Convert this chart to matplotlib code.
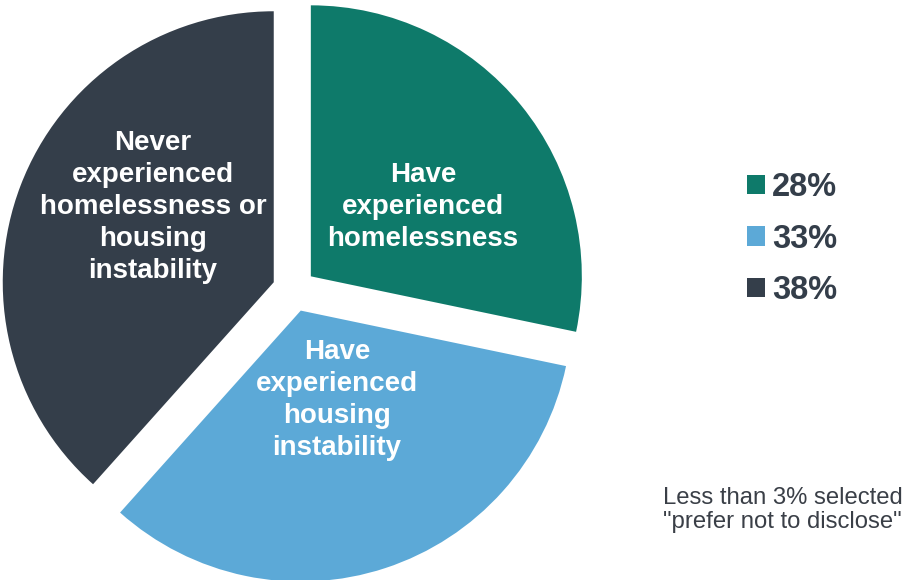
import matplotlib.pyplot as plt

plt.rcParams['font.family'] = ['Liberation Sans', 'DejaVu Sans']

# survey shares (the rest selected "prefer not to disclose")
labels = ["Have\nexperienced\nhomelessness",
          "Have\nexperienced\nhousing\ninstability",
          "Never\nexperienced\nhomelessness or\nhousing\ninstability"]
values = [28, 33, 38]
legend_labels = ["28%", "33%", "38%"]
colors = ["#0E7A6A", "#5CA9D7", "#343E4A"]
note = "Less than 3% selected\n\"prefer not to disclose\""

W, H = 902, 580
fig = plt.figure(figsize=(W / 100, H / 100), dpi=100)

# pie axes: centre at (294, 290) px, radius 271 px
cx, cy, R = 294, 290, 271
half = 300
ax = fig.add_axes([(cx - half) / W, (H - cy - half) / H, 2 * half / W, 2 * half / H])
wedges, _ = ax.pie(values, colors=colors, startangle=90, counterclock=False,
                   explode=[0.08, 0.08, 0.08], radius=1.0,
                   wedgeprops=dict(linewidth=0))
ax.set_xlim(-half / R, half / R)
ax.set_ylim(-half / R, half / R)
ax.set_aspect("equal")
ax.axis("off")

# slice labels (pixel centres converted to data units)
label_px = [(423, 207), (337, 400), (153, 207)]
for text, (px, py) in zip(labels, label_px):
    ax.text((px - cx) / R, (cy - py) / R, text, ha="center", va="center",
            color="white", fontsize=20, fontweight="bold", linespacing=1.3)

leg = fig.legend(wedges, legend_labels, loc="center left",
                 bbox_to_anchor=(718 / W, 1 - 239 / H), frameon=False,
                 fontsize=23.5, handlelength=0.55, handleheight=0.55,
                 handletextpad=0.2, labelspacing=0.63)
for t in leg.get_texts():
    t.set_color("#343E4A")
    t.set_fontweight("bold")

fig.text(663 / W, 1 - 510 / H, note, ha="left", va="center",
         fontsize=17.2, color="#3A3F47", linespacing=1.08)

fig.savefig("out.png", dpi=100)
